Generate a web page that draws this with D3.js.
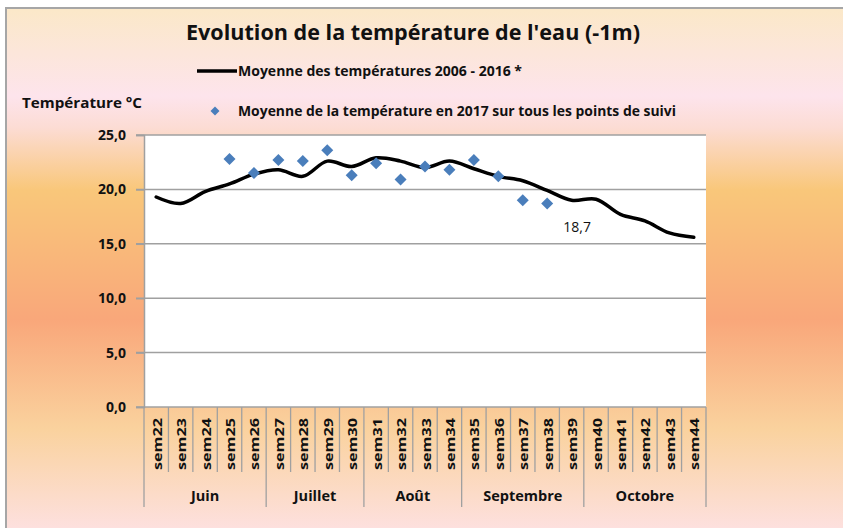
<!DOCTYPE html>
<html>
<head>
<meta charset="utf-8">
<script src="https://cdn.jsdelivr.net/npm/d3@7/dist/d3.min.js"></script>
<style>
  html, body { margin: 0; padding: 0; background: #fff; }
  svg { display: block; }
  text { font-family: "Open Sans", "Noto Sans", "Liberation Sans", sans-serif; fill: #111; }
</style>
</head>
<body>
<svg id="chart" width="843" height="528"></svg>
<script>
// Semaines suivies (sem22 … sem44)
const weeks = ["sem22","sem23","sem24","sem25","sem26","sem27","sem28","sem29","sem30",
               "sem31","sem32","sem33","sem34","sem35","sem36","sem37","sem38","sem39",
               "sem40","sem41","sem42","sem43","sem44"];

// Mois et nombre de semaines rattachées
const months = ["Juin","Juillet","Août","Septembre","Octobre"];
const monthWeekCounts = [5, 4, 4, 5, 5];

// Moyenne des températures 2006 - 2016 (°C)
const meanTemps = [19.3, 18.7, 19.8, 20.5, 21.4, 21.8, 21.2, 22.6, 22.1, 22.9, 22.6, 22.0,
                   22.6, 21.9, 21.2, 20.8, 19.9, 19.0, 19.1, 17.7, 17.1, 16.0, 15.6];

// Moyenne de la température en 2017 sur tous les points de suivi (°C)
const temps2017 = [null, null, null, 22.8, 21.5, 22.7, 22.6, 23.6, 21.3, 22.4, 20.9, 22.1,
                   21.8, 22.7, 21.2, 19.0, 18.7, null, null, null, null, null, null];

// Valeur étiquetée sur le graphique
const labelledWeek = "sem38";

const yTicks = [0, 5, 10, 15, 20, 25];

const svg = d3.select("#chart");
const defs = svg.append("defs");

// Fond dégradé "coucher de soleil"
const grad = defs.append("linearGradient")
  .attr("id", "bg").attr("gradientUnits", "userSpaceOnUse")
  .attr("x1", 0).attr("y1", 8).attr("x2", 0).attr("y2", 528);
[
  [0.00, "#fbe8c8"],
  [0.17, "#fde4ec"],
  [0.23, "#fcdcd4"],
  [0.35, "#f9c77a"],
  [0.60, "#f9a77a"],
  [0.81, "#fad29e"],
  [1.00, "#fde0de"]
].forEach(([o, c]) => grad.append("stop").attr("offset", o).attr("stop-color", c));

svg.append("rect").attr("x", 6).attr("y", 8).attr("width", 843).attr("height", 528)
  .attr("fill", "url(#bg)");
// Cadre du graphique
svg.append("path").attr("d", "M6,528V8H843")
  .attr("fill", "none").attr("stroke", "#a6a6a6").attr("stroke-width", 2);

// Titre
svg.append("text").attr("x", 413).attr("y", 40)
  .attr("text-anchor", "middle")
  .attr("textLength", 454).attr("lengthAdjust", "spacingAndGlyphs")
  .style("font-size", "22px").style("font-weight", "bold")
  .text("Evolution de la température de l'eau (-1m)");

// Échelles
const x = d3.scaleBand().domain(weeks).range([144, 706]).paddingInner(0).paddingOuter(0);
const y = d3.scaleLinear().domain([0, 25]).range([407, 135]);
const cx = w => x(w) + x.bandwidth() / 2;

// Zone de tracé
svg.append("rect").attr("x", 144).attr("y", y(25))
  .attr("width", 706 - 144).attr("height", y(0) - y(25)).attr("fill", "#fff");

// Quadrillage horizontal
svg.append("g").selectAll("line").data(yTicks).join("line")
  .attr("x1", 136).attr("x2", 706)
  .attr("y1", d => y(d)).attr("y2", d => y(d))
  .attr("stroke", "#a0a0a0").attr("stroke-width", 1.5);

// Axe des ordonnées
const yAxis = svg.append("g").attr("transform", "translate(144,0)")
  .call(d3.axisLeft(y).tickValues(yTicks).tickSize(8).tickPadding(10)
    .tickFormat(d => d3.format(".1f")(d).replace(".", ",")));
yAxis.select(".domain").attr("stroke", "#a0a0a0").attr("stroke-width", 1.5);
yAxis.selectAll(".tick line").attr("stroke", "#a0a0a0").attr("stroke-width", 1.5);
yAxis.selectAll(".tick text")
  .style("font-size", "14px").style("font-weight", "bold")
  .style("font-family", "'Open Sans', 'Noto Sans', sans-serif").attr("fill", "#111");

svg.append("text").attr("x", 22).attr("y", 108)
  .attr("textLength", 120).attr("lengthAdjust", "spacingAndGlyphs")
  .style("font-size", "14px").style("font-weight", "bold")
  .text("Température °C");

// Axe des abscisses : semaines puis mois
const monthStarts = [];
let acc = 0;
monthWeekCounts.forEach(n => { monthStarts.push(weeks[acc]); acc += n; });

const xAxis = svg.append("g");
const boundaries = weeks.map(w => ({ pos: x(w), month: monthStarts.includes(w) }))
  .concat([{ pos: x.range()[1], month: true }]);
xAxis.selectAll("line.sep").data(boundaries).join("line")
  .attr("class", "sep")
  .attr("x1", d => d.pos).attr("x2", d => d.pos)
  .attr("y1", y(0)).attr("y2", d => d.month ? 507 : 472)
  .attr("stroke", "#a0a0a0").attr("stroke-width", 1.3);

xAxis.selectAll("text.wk").data(weeks).join("text")
  .attr("class", "wk")
  .attr("transform", w => `translate(${cx(w) + 0.5},444) rotate(-90)`)
  .attr("text-anchor", "middle").attr("dominant-baseline", "central")
  .attr("textLength", 52).attr("lengthAdjust", "spacingAndGlyphs")
  .style("font-size", "13px").style("font-weight", "bold")
  .text(w => w);

acc = 0;
const monthSpans = months.map((m, i) => {
  const first = weeks[acc], last = weeks[acc + monthWeekCounts[i] - 1];
  acc += monthWeekCounts[i];
  return { m, mid: (x(first) + x(last) + x.bandwidth()) / 2 };
});
xAxis.selectAll("text.mo").data(monthSpans).join("text")
  .attr("class", "mo")
  .attr("x", d => d.mid).attr("y", 501)
  .attr("text-anchor", "middle")
  .style("font-size", "14.5px").style("font-weight", "bold")
  .text(d => d.m);

// Courbe lissée : moyenne 2006 - 2016
const line = d3.line()
  .defined(d => d.v != null)
  .x(d => cx(d.w)).y(d => y(d.v))
  .curve(d3.curveCatmullRom.alpha(0.5));
svg.append("path")
  .datum(weeks.map((w, i) => ({ w, v: meanTemps[i] })))
  .attr("d", line).attr("fill", "none")
  .attr("stroke", "#000").attr("stroke-width", 3.5)
  .attr("stroke-linejoin", "round").attr("stroke-linecap", "round");

// Losanges : 2017
const pts = weeks.map((w, i) => ({ w, v: temps2017[i] })).filter(d => d.v != null);
const diamond = d3.symbol().type(d3.symbolSquare).size(72);
svg.append("g").selectAll("path").data(pts).join("path")
  .attr("d", diamond)
  .attr("transform", d => `translate(${cx(d.w)},${y(d.v)}) rotate(45)`)
  .attr("fill", "#4a7ebb");

// Étiquette de valeur
const lab = pts.find(d => d.w === labelledWeek);
svg.append("text")
  .attr("x", cx(lab.w) + 30).attr("y", y(lab.v) + 28)
  .attr("text-anchor", "middle")
  .style("font-size", "14px").attr("fill", "#222")
  .text(d3.format(".1f")(lab.v).replace(".", ","));

// Légende
svg.append("line").attr("x1", 197).attr("x2", 237).attr("y1", 71).attr("y2", 71)
  .attr("stroke", "#000").attr("stroke-width", 3.5);
svg.append("text").attr("x", 238).attr("y", 76)
  .attr("textLength", 284).attr("lengthAdjust", "spacingAndGlyphs")
  .style("font-size", "13.5px").style("font-weight", "bold")
  .text("Moyenne des températures  2006 - 2016 *");

svg.append("path").attr("d", d3.symbol().type(d3.symbolSquare).size(40))
  .attr("transform", "translate(215,111) rotate(45)").attr("fill", "#4a7ebb");
svg.append("text").attr("x", 238).attr("y", 116)
  .attr("textLength", 438).attr("lengthAdjust", "spacingAndGlyphs")
  .style("font-size", "13.5px").style("font-weight", "bold")
  .text("Moyenne de la température  en 2017 sur tous les points  de suivi");
</script>
</body>
</html>
